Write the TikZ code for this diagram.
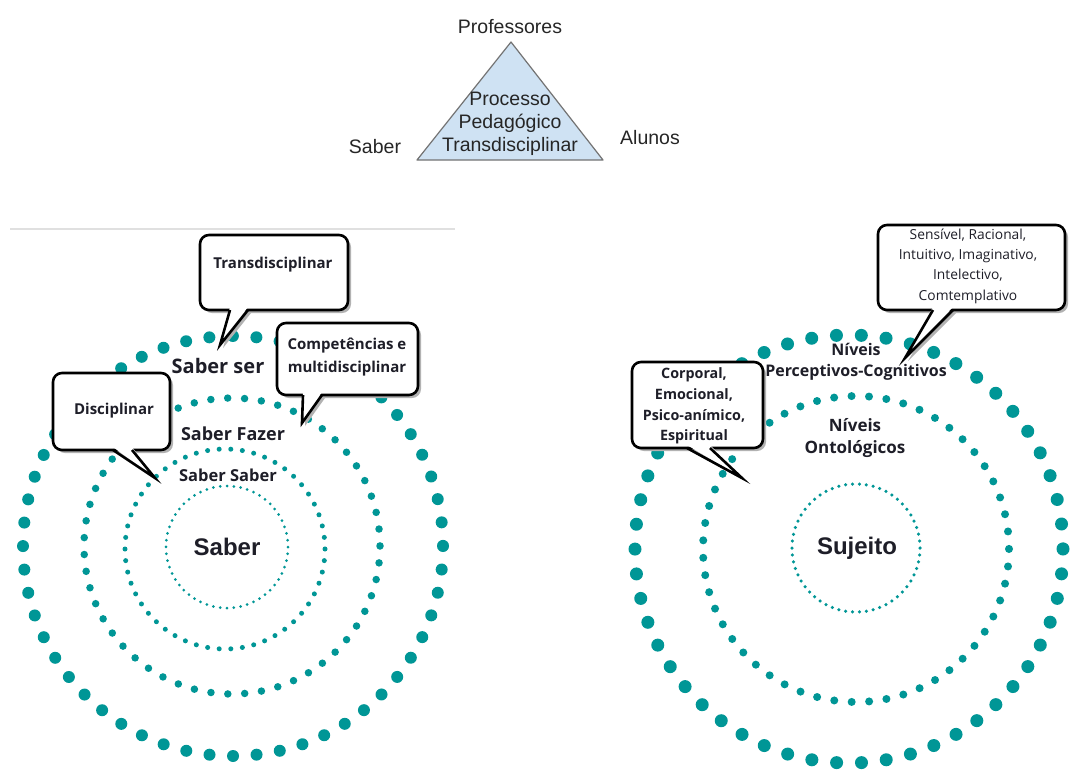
\documentclass[tikz,border=0pt]{standalone}
\usepackage{fontspec}
\setmainfont{Liberation Sans}
\newfontfamily\osans{Open Sans}
\definecolor{dotc}{RGB}{0,150,150}
\definecolor{trifill}{RGB}{207,226,243}
\definecolor{txt}{RGB}{30,30,40}
\newcommand{\dotring}[5]{%
  \pgfmathsetmacro\ringgap{2*pi*#3/#4}%
  \draw[dotc,line width=#5pt,line cap=round,dash pattern=on 0pt off \ringgap pt] (#1,#2) circle (#3);}
\newcommand{\callout}[8]{%
  \begin{scope}[shift={(3,3)}]
    \fill[black!30,rounded corners=9pt] (#1,#2) rectangle (#3,#4);
    \fill[black!30] (#5,#4) -- (#7,#8) -- (#6,#4) -- cycle;
  \end{scope}
  \draw[callbox] (#1,#2) rectangle (#3,#4);
  \fill[white] (#5,{#4-3}) -- (#7,#8) -- (#6,{#4-3}) -- cycle;
  \draw[calltail] (#5,#4) -- (#7,#8) -- (#6,#4);}
\begin{document}
\begin{tikzpicture}[x=1pt,y=-1pt,
  callbox/.style={fill=white,draw=black,line width=2.6pt,rounded corners=9pt},
  calltail/.style={draw=black,line width=2.6pt,line join=miter},
  toplab/.style={font=\fontsize{19.5}{23}\selectfont,text=black!85,inner sep=0pt},
  ringlab/.style={font=\osans\bfseries\fontsize{#1}{#1}\selectfont,text=txt,inner sep=0pt,align=center},
  ringlab/.default=15,
  centerlab/.style={font=\bfseries\fontsize{24}{24}\selectfont,text=txt,inner sep=0pt},
  calltext/.style={font=\osans\bfseries\fontsize{15}{23}\selectfont,text=txt,inner sep=0pt,align=center}]
\useasboundingbox (0,0) rectangle (1074,780);
\fill[white] (0,0) rectangle (1074,780);

% top triangle
\coordinate (apex) at (511,42);
\coordinate (bl) at (417,160);
\coordinate (br) at (603,160);
\draw[fill=trifill,draw=black!55,line width=1.2pt,line join=round] (apex) -- (br) -- (bl) -- cycle;
\node[toplab] (prof) at (510,27) {Professores};
\node[toplab] (saberT) at (375,147) {Saber};
\node[toplab] (alunos) at (650,138) {Alunos};
\node[toplab,align=center,font=\fontsize{19.5}{23}\selectfont] (proc) at (510,124) {Processo\\Pedagógico\\Transdisciplinar};

% separator line
\draw[black!12,line width=2pt] (10,229) -- (455,229);

% left rings
\dotring{233}{546}{210}{56}{12}
\dotring{232}{546}{148}{55}{7.5}
\dotring{225}{549}{100}{54}{5}
\dotring{227}{547}{61}{56}{3}

% right rings
\dotring{849}{549}{214}{54}{13}
\dotring{856}{549}{153}{55}{8}
\dotring{856}{548}{64}{58}{3.5}

% ring labels
\node[ringlab=20] (sser) at (218,366) {Saber ser};
\node[ringlab=18] (sfaz) at (233,434) {Saber Fazer};
\node[ringlab=16.5] (ssab) at (228,475) {Saber Saber};
\node[centerlab] (saberC) at (227,547) {Saber};
\node[centerlab] (suj) at (857,548) {Sujeito};
\node[ringlab=16,font=\osans\bfseries\fontsize{16}{20.5}\selectfont] (npc) at (856,362) {Níveis\\Perceptivos-Cognitivos};
\node[ringlab=16,font=\osans\bfseries\fontsize{17}{22.5}\selectfont] (nont) at (855,438) {Níveis\\Ontológicos};

% callouts
\callout{200}{235}{348}{310}{230}{248}{220}{345}
\node[calltext] (ctrans) at (273,265) {Transdisciplinar};
\callout{277}{323}{418}{395}{303}{322}{302}{423}
\node[calltext] (ccomp) at (347,357) {Competências e\\multidisciplinar};
\callout{53}{373}{170}{450}{113}{132}{155}{478}
\node[calltext] (cdisc) at (114,411) {Disciplinar};
\callout{878}{225}{1065}{310}{933}{953}{905}{358}
\node[calltext,font=\osans\fontsize{13.8}{20.3}\selectfont] (csens) at (968,266) {Sensível, Racional,\\Intuitivo, Imaginativo,\\Intelectivo,\\Comtemplativo};
\callout{632}{362}{763}{448}{687}{710}{742}{478}
\node[calltext,font=\osans\bfseries\fontsize{14.3}{20.7}\selectfont] (ccorp) at (694,406) {Corporal,\\Emocional,\\Psico-anímico,\\Espiritual};
\end{tikzpicture}
\end{document}
